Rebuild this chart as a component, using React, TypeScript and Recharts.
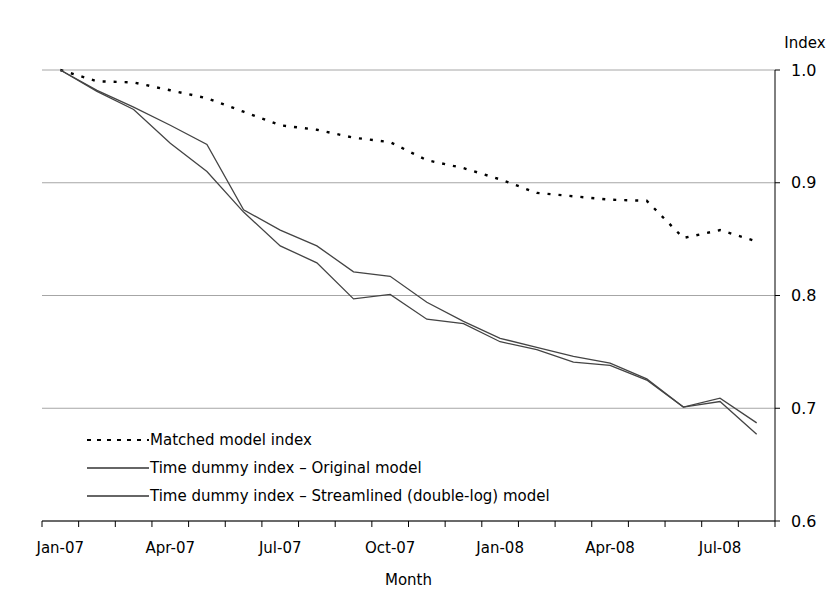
import { CartesianGrid, Legend, Line, LineChart, XAxis, YAxis } from "recharts"

const MONTHS = [
  "Jan-07", "Feb-07", "Mar-07", "Apr-07", "May-07", "Jun-07", "Jul-07", "Aug-07", "Sep-07", "Oct-07",
  "Nov-07", "Dec-07", "Jan-08", "Feb-08", "Mar-08", "Apr-08", "May-08", "Jun-08", "Jul-08", "Aug-08",
]

const MATCHED = [
  1.0, 0.99, 0.989, 0.982, 0.975, 0.963, 0.951, 0.947, 0.94, 0.936,
  0.92, 0.913, 0.903, 0.891, 0.888, 0.885, 0.884, 0.851, 0.858, 0.848,
]

const ORIGINAL = [
  1.0, 0.982, 0.967, 0.951, 0.934, 0.876, 0.858, 0.844, 0.821, 0.817,
  0.794, 0.777, 0.762, 0.754, 0.746, 0.74, 0.726, 0.701, 0.709, 0.687,
]

const STREAMLINED = [
  1.0, 0.981, 0.965, 0.935, 0.91, 0.874, 0.844, 0.829, 0.797, 0.801,
  0.779, 0.775, 0.759, 0.752, 0.741, 0.738, 0.725, 0.701, 0.706, 0.677,
]

const Y_TICKS = [0.6, 0.7, 0.8, 0.9, 1.0]

const data = MONTHS.map((month, i) => ({
  month,
  matched: MATCHED[i],
  original: ORIGINAL[i],
  streamlined: STREAMLINED[i],
}))

const FONT = "'DejaVu Sans', sans-serif"
const WIDTH = 837
const HEIGHT = 607
const LEFT = 42
const Y_AXIS_W = 62
const PLOT_W = WIDTH - LEFT - Y_AXIS_W
const STEP = PLOT_W / MONTHS.length

// Excel style: tick marks sit between categories, labels every quarter
function MonthTick({ x, y, payload, index }: any) {
  const last = index === MONTHS.length - 1
  return (
    <g>
      <line x1={x - STEP / 2} x2={x - STEP / 2} y1={y} y2={y + 6} stroke="#000" />
      {last && <line x1={x + STEP / 2} x2={x + STEP / 2} y1={y} y2={y + 6} stroke="#000" />}
      {index % 3 === 0 && (
        <text x={x} y={y + 32} textAnchor="middle" fontSize={15} fontFamily={FONT} fill="#000">
          {payload.value}
        </text>
      )}
    </g>
  )
}

const LEGEND_ITEMS = [
  { label: "Matched model index", dash: "4 6", width: 2.2, color: "#000" },
  { label: "Time dummy index \u2013 Original model", dash: undefined, width: 1.3, color: "#333" },
  { label: "Time dummy index \u2013 Streamlined (double-log) model", dash: undefined, width: 1.3, color: "#333" },
]

function ChartLegend() {
  return (
    <div style={{ fontFamily: FONT, fontSize: 15, color: "#000" }}>
      {LEGEND_ITEMS.map((item) => (
        <div key={item.label} style={{ display: "flex", alignItems: "center", height: 28 }}>
          <svg width={62} height={10}>
            <line x1={0} x2={62} y1={5} y2={5} stroke={item.color} strokeWidth={item.width} strokeDasharray={item.dash} />
          </svg>
          <span style={{ marginLeft: 1 }}>{item.label}</span>
        </div>
      ))}
    </div>
  )
}

export default function App() {
  return (
    <div style={{ position: "absolute", left: 0, top: 0, width: WIDTH, height: HEIGHT, background: "#fff" }}>
      <LineChart width={WIDTH} height={HEIGHT} data={data} margin={{ top: 70, right: 0, bottom: 0, left: LEFT }}>
        <CartesianGrid vertical={false} stroke="#a6a6a6" />
        <XAxis
          dataKey="month"
          scale="band"
          height={86}
          interval={0}
          tickSize={0}
          tickMargin={0}
          tickLine={false}
          axisLine={{ stroke: "#000" }}
          tick={<MonthTick />}
          label={{ value: "Month", position: "insideBottom", offset: 22, fontSize: 15, fontFamily: FONT, fill: "#000" }}
        />
        <YAxis
          orientation="right"
          width={Y_AXIS_W}
          domain={[0.6, 1.0]}
          ticks={Y_TICKS}
          tickFormatter={(v: number) => v.toFixed(1)}
          tickSize={5}
          tickMargin={11}
          axisLine={{ stroke: "#000" }}
          tickLine={{ stroke: "#000" }}
          tick={{ fontSize: 16, fontFamily: FONT, fill: "#000" }}
          label={{
            content: () => (
              <text x={805} y={48} textAnchor="middle" fontSize={15} fontFamily={FONT} fill="#000">
                Index
              </text>
            ),
          }}
        />
        <Legend
          layout="horizontal"
          align="center"
          verticalAlign="middle"
          content={<ChartLegend />}
          wrapperStyle={{ position: "absolute", left: 87, top: 426, width: 520 }}
        />
        <Line
          dataKey="matched"
          name="Matched model index"
          stroke="#000"
          strokeWidth={2.4}
          strokeDasharray="3 8"
          dot={false}
          isAnimationActive={false}
        />
        <Line
          dataKey="original"
          name="Time dummy index – Original model"
          stroke="#444"
          strokeWidth={1.3}
          dot={false}
          isAnimationActive={false}
        />
        <Line
          dataKey="streamlined"
          name="Time dummy index – Streamlined (double-log) model"
          stroke="#444"
          strokeWidth={1.3}
          dot={false}
          isAnimationActive={false}
        />
      </LineChart>
    </div>
  )
}
